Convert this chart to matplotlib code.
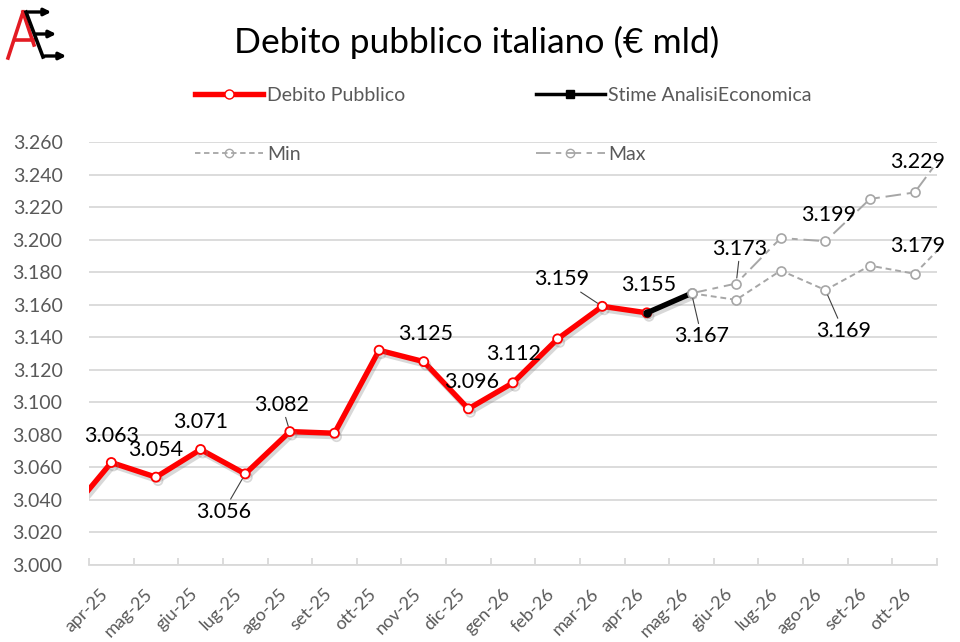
import matplotlib
matplotlib.use("Agg")
import matplotlib.pyplot as plt
import matplotlib.patheffects as pe
from matplotlib.lines import Line2D
from matplotlib.patches import FancyArrowPatch

plt.rcParams["font.family"] = ["Lato", "DejaVu Sans"]

# ----------------------------------
# Data (€ mld); first and last month sit just outside the visible axis
# ----------------------------------
mesi = ["mar-25", "apr-25", "mag-25", "giu-25", "lug-25", "ago-25", "set-25",
        "ott-25", "nov-25", "dic-25", "gen-26", "feb-26", "mar-26", "apr-26",
        "mag-26", "giu-26", "lug-26", "ago-26", "set-26", "ott-26", "nov-26"]

debito = [3.030, 3.063, 3.054, 3.071, 3.056, 3.082, 3.081, 3.132, 3.125,
          3.096, 3.112, 3.139, 3.159, 3.155]          # mar-25 .. apr-26
stime = [3.155, 3.167]                                # apr-26 .. mag-26
stima_min = [3.167, 3.163, 3.181, 3.169, 3.184, 3.179, 3.207]   # mag-26 .. nov-26
stima_max = [3.167, 3.173, 3.201, 3.199, 3.225, 3.229, 3.266]

x_deb = list(range(0, len(debito)))
x_stime = [mesi.index("apr-26"), mesi.index("mag-26")]
x_fc = list(range(mesi.index("mag-26"), mesi.index("mag-26") + len(stima_min)))

# labels: (month, series, text, dx px, dy px, leader)
etichette = [
    ("apr-25", "deb", "3.063", 0, 27, False),
    ("mag-25", "deb", "3.054", 0, 27, False),
    ("giu-25", "deb", "3.071", 0, 27, False),
    ("lug-25", "deb", "3.056", -22, -38, True),
    ("ago-25", "deb", "3.082", -8, 27, True),
    ("nov-25", "deb", "3.125", 2, 28, False),
    ("dic-25", "deb", "3.096", 3, 27, False),
    ("gen-26", "deb", "3.112", 1, 29, False),
    ("mar-26", "deb", "3.159", -41, 27, True),
    ("apr-26", "deb", "3.155", 2, 28, False),
    ("mag-26", "max", "3.167", 10, -43, True),
    ("giu-26", "max", "3.173", 4, 35, True),
    ("ago-26", "max", "3.199", 3, 26, False),
    ("ago-26", "min", "3.169", 18, -41, True),
    ("ott-26", "max", "3.229", 3, 30, False),
    ("ott-26", "min", "3.179", 3, 28, False),
]

fig = plt.figure(figsize=(9.6, 6.42), dpi=100)
ax = fig.add_axes([89 / 960, 1 - 565 / 642, (937 - 89) / 960, (565 - 142) / 642])

shadow = [pe.SimpleLineShadow(offset=(1.5, -2.5), shadow_color="gray", alpha=0.3), pe.Normal()]
grigio = "#a6a6a6"

ax.plot(x_fc, stima_min, color=grigio, lw=1.4, ls=(0, (3, 2)), marker="o", ms=6.5,
        mfc="white", mec=grigio, mew=1.2, zorder=3)
ax.plot(x_fc, stima_max, color=grigio, lw=1.4, ls=(0, (8, 3, 3, 3)), marker="o", ms=6.5,
        mfc="white", mec=grigio, mew=1.2, zorder=3)
ax.plot(x_deb, debito, color="#ff0000", lw=3.9, marker="o", ms=6.5, mfc="white",
        mec="#ff0000", mew=1.3, zorder=4, path_effects=shadow)
ax.plot(x_stime, stime, color="black", lw=3.9, zorder=5, path_effects=shadow)
ax.plot(x_stime[:1], stime[:1], "o", color="black", ms=5, zorder=6)
ax.plot(x_fc[:1], stima_min[:1], "o", ms=6.5, mfc="white", mec=grigio, mew=1.2, zorder=6)

serie = {"deb": (x_deb, debito), "min": (x_fc, stima_min), "max": (x_fc, stima_max)}
for mese, s, txt, dx, dy, leader in etichette:
    xs, ys = serie[s]
    i = xs.index(mesi.index(mese))
    props = dict(arrowstyle="-", color="#404040", lw=0.8, shrinkA=0, shrinkB=4) if leader else None
    ax.annotate(txt, (xs[i], ys[i]), xytext=(dx, dy), textcoords="offset pixels",
                ha="center", va="center", fontsize=15.5, color="black",
                arrowprops=props, zorder=7)

ax.set_xlim(0.5, 19.5)
ax.set_ylim(3.000, 3.260)
ax.set_yticks([3.000 + 0.020 * k for k in range(14)])
ax.set_yticklabels([f"{3.000 + 0.020 * k:.3f}" for k in range(14)])
ax.set_xticks(range(1, 20))
ax.set_xticklabels(mesi[1:20], rotation=45, ha="right")
ax.set_xticks([k + 0.5 for k in range(0, 20)], minor=True)

ax.grid(axis="y", color="#d9d9d9", lw=1.3)
ax.set_axisbelow(True)
for sp in ["top", "right", "left"]:
    ax.spines[sp].set_visible(False)
ax.spines["bottom"].set_color("#d9d9d9")
ax.spines["bottom"].set_linewidth(1.3)
ax.tick_params(axis="y", length=0, labelsize=14, labelcolor="#595959", pad=19)
ax.tick_params(axis="x", which="major", length=0, labelsize=13, labelcolor="#595959", pad=15)
ax.tick_params(axis="x", which="minor", length=5, color="#d9d9d9", width=1.3, direction="in")

# ----------------------------------
# Legend, title, logo
# ----------------------------------
h_deb = Line2D([], [], color="#ff0000", lw=3.9, marker="o", ms=6.5, mfc="white", mec="#ff0000")
h_min = Line2D([], [], color=grigio, lw=1.3, ls=(0, (3, 2)), marker="o", ms=6, mfc="none", mec=grigio)
h_st = Line2D([], [], color="black", lw=2.5, marker="s", ms=6)
h_max = Line2D([], [], color=grigio, lw=1.3, ls=(0, (8, 3, 3, 3)), marker="o", ms=6, mfc="none", mec=grigio)
fig.legend([h_deb, h_min, h_st, h_max], ["Debito Pubblico", "Min", "Stime AnalisiEconomica", "Max"],
           ncol=2, loc="upper left", bbox_to_anchor=(195 / 960, 1 - 87 / 642), frameon=False,
           fontsize=14, handlelength=3.5, handletextpad=0.2, labelspacing=2.14,
           columnspacing=6.75, borderpad=0, borderaxespad=0, labelcolor="#595959")

fig.text(477 / 960, 1 - 42 / 642, "Debito pubblico italiano (€ mld)", ha="center", va="center",
         fontsize=25.5, color="black")

def px(x, y):
    return (x / 960, 1 - y / 642)

for (a, b), c in [((px(8, 58), px(23, 12)), "#e31b23"), ((px(15, 40), px(33, 40)), "#e31b23"),
                  ((px(23, 12), px(34, 45)), "#e31b23"), ((px(26, 12), px(43, 57)), "black")]:
    fig.add_artist(Line2D([a[0], b[0]], [a[1], b[1]], color=c, lw=2.6, transform=fig.transFigure))
for y, x0, x1 in [(12, 25, 54), (34, 33, 59), (56, 42, 69)]:
    fig.add_artist(FancyArrowPatch(px(x0, y), px(x1, y), transform=fig.transFigure,
                                   arrowstyle="-|>", mutation_scale=10, color="black", lw=2.4))

fig.savefig("out.png", dpi=100)
